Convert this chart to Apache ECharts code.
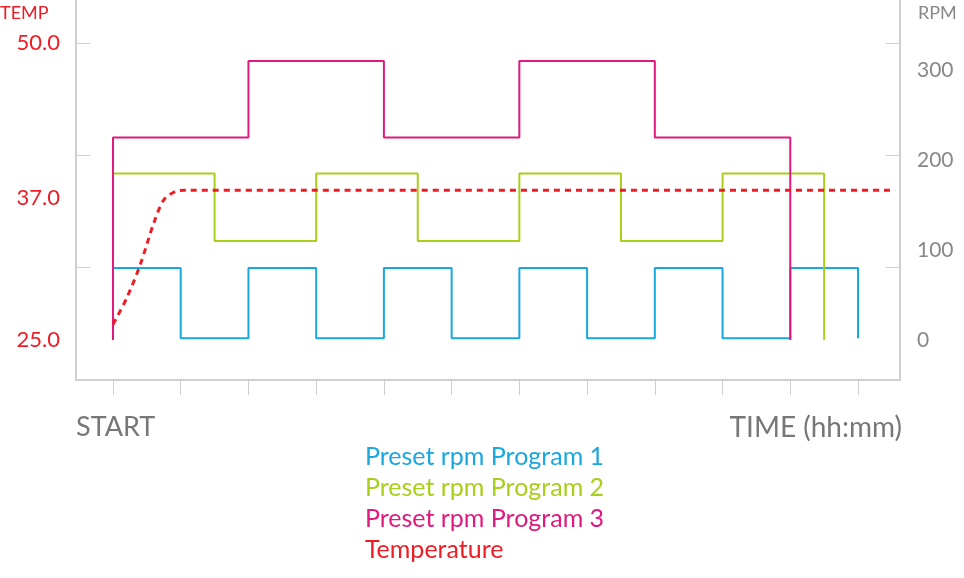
<!DOCTYPE html>
<html><head><meta charset="utf-8">
<script src="https://cdn.jsdelivr.net/npm/echarts@6/dist/echarts.min.js"></script>
<style>html,body{margin:0;padding:0;background:#fff}#c{width:964px;height:578px}</style>
</head><body><div id="c"></div>
<script>
const tempTicks = [25, 37, 50];
const rpmTicks = [0, 100, 200, 300];
const timeTicks = [0,1,2,3,4,5,6,7,8,9,10,11];
const legendNames = ['Preset rpm Program 1','Preset rpm Program 2','Preset rpm Program 3','Temperature'];
const program1 = [[0,2],[0,80],[1,80],[1,2],[2,2],[2,80],[3,80],[3,2],[4,2],[4,80],[5,80],[5,2],[6,2],[6,80],[7,80],[7,2],[8,2],[8,80],[9,80],[9,2],[10,2],[10,80],[11,80],[11,2]];
const program2 = [[0,0],[0,185],[1.5,185],[1.5,110],[3,110],[3,185],[4.5,185],[4.5,110],[6,110],[6,185],[7.5,185],[7.5,110],[9,110],[9,185],[10.5,185],[10.5,0]];
const program3 = [[0,0],[0,225],[2,225],[2,310],[4,310],[4,225],[6,225],[6,310],[8,310],[8,225],[10,225],[10,0]];
const temperature = [[0,26.3],[0.2,28.5],[0.4,31.3],[0.6,34.8],[0.75,36.8],[0.92,37.5],[1.06,37.6],[11.55,37.6]];
const colors = ['#1AA7E0','#A8CF1A','#E0197D','#EE1C24'];
const font = 'Lato';
const chart = echarts.init(document.getElementById('c'));
chart.setOption({
  animation:false,
  textStyle:{fontFamily:font},
  grid:{left:76,right:64,top:0,bottom:198},
  xAxis:{type:'value',min:-0.546,max:11.62,
    axisLine:{onZero:false,lineStyle:{color:'#cfcfcf',width:2}},
    axisTick:{show:true,length:15,customValues:timeTicks,lineStyle:{color:'#cfcfcf',width:1}},
    axisLabel:{show:false},splitLine:{show:false}},
  yAxis:[
    {type:'value',min:21.63,max:53.62,position:'left',
      axisLine:{show:true,onZero:false,lineStyle:{color:'#cfcfcf',width:2}},
      axisTick:{show:true,inside:true,length:14,customValues:[50,40.57,31.14],lineStyle:{color:'#cfcfcf'}},
      axisLabel:{customValues:tempTicks,formatter:v=>v.toFixed(1),color:'#EE1C24',fontSize:22,margin:16,fontFamily:font},
      splitLine:{show:false}},
    {type:'value',min:-44.4,max:377.8,position:'right',
      axisLine:{show:true,onZero:false,lineStyle:{color:'#cfcfcf',width:2}},
      axisTick:{show:true,inside:true,length:14,customValues:[330,205.6,81.1],lineStyle:{color:'#cfcfcf'}},
      axisLabel:{customValues:rpmTicks,color:'#888',fontSize:21,margin:17,fontFamily:font},
      splitLine:{show:false}}
  ],
  legend:{orient:'vertical',left:'center',top:439,icon:'none',itemWidth:0,itemGap:6,
    textStyle:{fontSize:25,fontFamily:font},
    data:legendNames.map((n,i)=>({name:n,textStyle:{color:colors[i]}}))},
  graphic:[
    {type:'text',left:0,top:4,style:{text:'TEMP',fill:'#EE1C24',font:'18px '+font}},
    {type:'text',left:918,top:4,style:{text:'RPM',fill:'#888',font:'18px '+font}},
    {type:'text',left:76,top:414,style:{text:'START',fill:'#777',font:'27px '+font}},
    {type:'text',right:62,top:414,style:{text:'TIME (hh:mm)',fill:'#777',font:'28px '+font}}
  ],
  series:[
    {name:legendNames[0],type:'line',yAxisIndex:1,data:program1,symbol:'none',lineStyle:{color:colors[0],width:2},itemStyle:{color:colors[0]}},
    {name:legendNames[1],type:'line',yAxisIndex:1,data:program2,symbol:'none',lineStyle:{color:colors[1],width:2},itemStyle:{color:colors[1]}},
    {name:legendNames[2],type:'line',yAxisIndex:1,data:program3,symbol:'none',lineStyle:{color:colors[2],width:2},itemStyle:{color:colors[2]}},
    {name:legendNames[3],type:'line',yAxisIndex:0,data:temperature,symbol:'none',smooth:0.3,lineStyle:{color:colors[3],width:3,type:[6,5]},itemStyle:{color:colors[3]}}
  ]
});
</script></body></html>
